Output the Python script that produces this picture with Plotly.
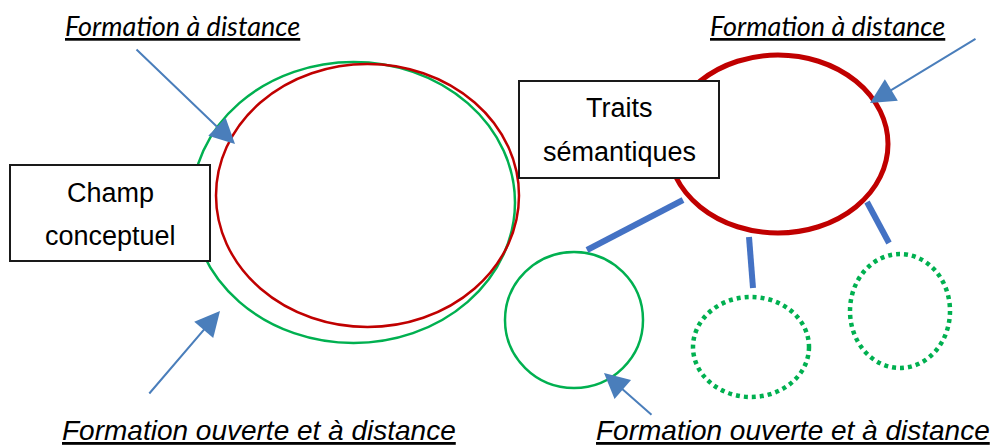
import plotly.graph_objects as go

# ---- diagram content ----
box_labels = [["Champ", "conceptuel"], ["Traits", "sémantiques"]]
top_labels = ["Formation à distance", "Formation à distance"]
bottom_labels = ["Formation ouverte et à distance", "Formation ouverte et à distance"]

# geometry (pixel space, y downwards)
big_green = (192, 62, 515, 343)
big_red = (216, 64, 519, 327)
right_red = (668, 55, 888, 233)
small_green = (505, 252, 643, 388)
dotted_circles = [(693, 297, 809, 397), (850, 254, 950, 368)]
boxes = [(10, 165, 210, 261), (519, 81, 719, 178)]
box_text_y = [(193, 236), (108, 152)]
connectors = [((587, 250), (683, 200)), ((749, 237), (753, 288)), ((867, 202), (889, 243))]
arrows = [((135, 48), (235, 144)), ((977, 38), (870, 103)),
          ((148, 395), (220, 311)), ((653, 416), (604, 373))]
top_label_x = [182, 827]
top_label_y = 25
bottom_label_x = [259, 793]
bottom_label_y = 430

GREEN = "#00B050"
RED = "#C00000"
BLUE = "#4472C4"
ARROW = "#4A7EBB"

fig = go.Figure()
shapes = []
shapes.append(dict(type="circle", x0=big_green[0], y0=big_green[1], x1=big_green[2], y1=big_green[3],
                   line=dict(color=GREEN, width=2.5)))
shapes.append(dict(type="circle", x0=big_red[0], y0=big_red[1], x1=big_red[2], y1=big_red[3],
                   line=dict(color=RED, width=2.5)))
shapes.append(dict(type="circle", x0=right_red[0], y0=right_red[1], x1=right_red[2], y1=right_red[3],
                   line=dict(color=RED, width=5)))
shapes.append(dict(type="circle", x0=small_green[0], y0=small_green[1], x1=small_green[2], y1=small_green[3],
                   line=dict(color=GREEN, width=2.5)))
for c in dotted_circles:
    shapes.append(dict(type="circle", x0=c[0], y0=c[1], x1=c[2], y1=c[3],
                       line=dict(color=GREEN, width=4.5, dash="4px,4px")))
for (p0, p1) in connectors:
    shapes.append(dict(type="line", x0=p0[0], y0=p0[1], x1=p1[0], y1=p1[1],
                       line=dict(color=BLUE, width=6)))
for b in boxes:
    shapes.append(dict(type="rect", x0=b[0], y0=b[1], x1=b[2], y1=b[3],
                       line=dict(color="#1a1a1a", width=2), fillcolor="white", layer="above"))

annotations = []
for b, lines, ys in zip(boxes, box_labels, box_text_y):
    cx = (b[0] + b[2]) / 2
    for t, yy in zip(lines, ys):
        annotations.append(dict(x=cx, y=yy, text=t, showarrow=False, xanchor="center", yanchor="middle",
                                font=dict(family="Liberation Sans, Arial", size=27, color="black")))
for (tail, tip) in arrows:
    annotations.append(dict(x=tip[0], y=tip[1], ax=tail[0], ay=tail[1], axref="x", ayref="y",
                            xref="x", yref="y", text="", showarrow=True, arrowhead=2,
                            arrowsize=2.5, arrowwidth=2, arrowcolor=ARROW))
for t, x in zip(top_labels, top_label_x):
    annotations.append(dict(x=x, y=top_label_y, text="<i><u>" + t + "</u></i>", showarrow=False,
                            xanchor="center", yanchor="middle",
                            font=dict(family="Lato, Carlito, Calibri", size=27, color="black")))
for t, x in zip(bottom_labels, bottom_label_x):
    annotations.append(dict(x=x, y=bottom_label_y, text="<i><u>" + t + "</u></i>", showarrow=False,
                            xanchor="center", yanchor="middle",
                            font=dict(family="Liberation Sans, Arial", size=28, color="black")))

fig.update_layout(
    width=990, height=445, margin=dict(l=0, r=0, t=0, b=0),
    paper_bgcolor="white", plot_bgcolor="white",
    xaxis=dict(range=[0, 990], visible=False, fixedrange=True),
    yaxis=dict(range=[445, 0], visible=False, fixedrange=True),
    shapes=shapes, annotations=annotations, showlegend=False,
)
fig.write_html("out.html", config={"displayModeBar": False},
               post_script="document.body.style.margin='0';document.body.style.padding='0';")
